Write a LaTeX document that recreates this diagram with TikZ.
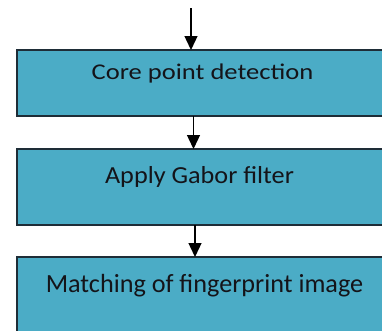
\documentclass[tikz,border=0pt]{standalone}
\usepackage{fontspec}
\setmainfont{Carlito}
\usetikzlibrary{arrows.meta}
\definecolor{boxfill}{RGB}{75,172,198}
\definecolor{boxline}{RGB}{30,45,55}
\definecolor{txt}{RGB}{20,20,25}
\begin{document}
\begin{tikzpicture}[x=1bp,y=-1bp,
  stagebox/.style={draw=boxline, fill=boxfill, line width=1.4bp, rectangle,
    inner sep=0pt, outer sep=0pt},
  caption/.style={anchor=base, inner sep=0pt, text=txt},
  arr/.style={draw=black, line width=1.3bp,
    -{Triangle[length=14bp,width=13bp]}}]
  \useasboundingbox (0,0) rectangle (382,331);
  \clip (0,0) rectangle (382,331);

  % processing stages (boxes run past the right and bottom edges)
  \node[stagebox, minimum width=383bp, minimum height=66bp] (b1) at (208.5,83) {};
  \node[stagebox, minimum width=383bp, minimum height=76bp] (b2) at (208.5,187) {};
  \node[stagebox, minimum width=383bp, minimum height=88bp] (b3) at (208.5,301) {};

  % stage captions
  \node[caption] (t1) at (202.5,79)
    {\scalebox{1.18}[1]{\fontsize{22.5bp}{27bp}\selectfont Core point detection}};
  \node[caption] (t2) at (199.5,183)
    {\scalebox{1.07}[1]{\fontsize{24.5bp}{29bp}\selectfont Apply Gabor filter}};
  \node[caption] (t3) at (204.5,292)
    {\fontsize{26.2bp}{31bp}\selectfont Matching of fingerprint image};

  % connector columns
  \coordinate (in) at (191,8);
  \coordinate (c2) at (193.5,0);
  \coordinate (c3) at (195,0);

  \draw[arr] (in) -- (b1.north -| in);
  \draw[arr] (b1.south -| c2) -- (b2.north -| c2);
  \draw[arr] (b2.south -| c3) -- (b3.north -| c3);
\end{tikzpicture}
\end{document}
